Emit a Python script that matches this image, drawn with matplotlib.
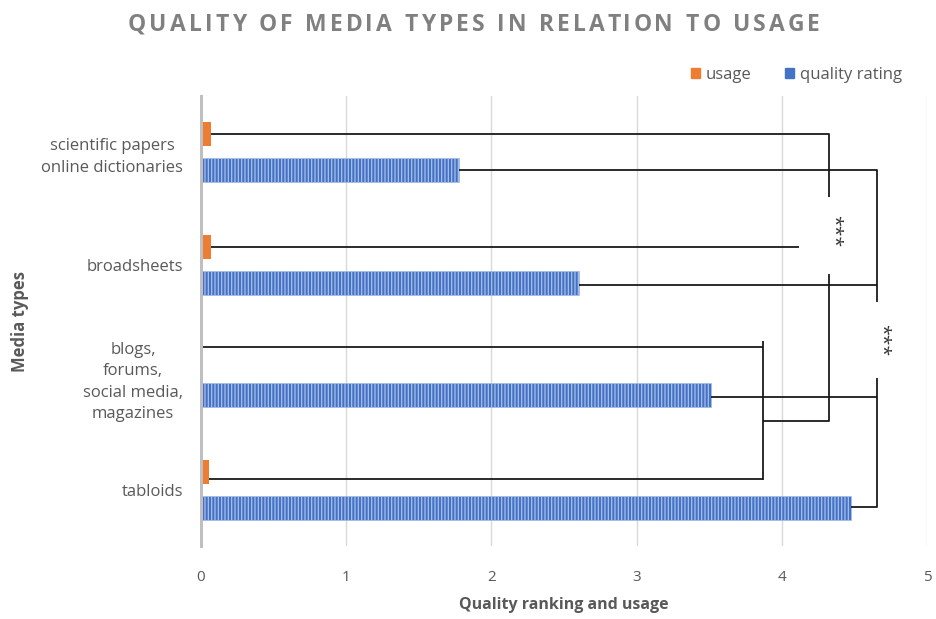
import matplotlib
matplotlib.use("Agg")
import matplotlib.pyplot as plt
from matplotlib.patches import Patch

# Media types, bottom to top
categories = [
    "tabloids",
    "blogs,\nforums,\nsocial media,\nmagazines",
    "broadsheets",
    "scientific papers\nonline dictionaries",
]
usage = [0.055, 0.0, 0.07, 0.07]
quality = [4.48, 3.51, 2.60, 1.78]
x_ticks = [0, 1, 2, 3, 4, 5]
title = "QUALITY OF MEDIA TYPES IN RELATION TO USAGE"

ORANGE = "#ED7D31"
BLUE = "#4472C4"
TEXT = "#595959"

plt.rcParams["font.family"] = ["Open Sans", "DejaVu Sans"]
plt.rcParams["hatch.linewidth"] = 0.9

W, H = 936, 619
fig = plt.figure(figsize=(W / 100, H / 100), dpi=100)
ax = fig.add_axes([201 / W, 1 - 546 / H, (927 - 201) / W, (546 - 96) / H])

pos = list(range(len(categories)))
off = 0.16
h = 0.21
ax.barh([p + off for p in pos], usage, height=h, color=ORANGE, zorder=3)
ax.barh([p - off for p in pos], quality, height=h, color=BLUE,
        edgecolor="#a9c0ea", linewidth=0.4, hatch="|||||", zorder=3)

# significance brackets
seg = [
    [(usage[3], 3.164), (4.325, 3.164), (4.325, 2.604)],
    [(4.325, 1.92), (4.325, 0.613), (3.871, 0.613)],
    [(usage[2], 2.16), (4.118, 2.16)],
    [(quality[3], 2.844), (4.656, 2.844), (4.656, 1.671)],
    [(4.656, 0.996), (4.656, -0.151), (quality[0], -0.151)],
    [(quality[2], 1.822), (4.656, 1.822)],
    [(quality[1], 0.827), (4.656, 0.827)],
    [(0, 1.271), (3.871, 1.271)],
    [(3.871, 1.324), (3.871, 0.089)],
    [(usage[0], 0.098), (3.871, 0.098)],
]
for s in seg:
    xs, ys = zip(*s)
    ax.plot(xs, ys, color="#1a1a1a", lw=1.3, zorder=4, solid_capstyle="butt")

for sx, sy in [(4.352, 2.30), (4.683, 1.333)]:
    ax.text(sx, sy, "***", rotation=270, ha="center", va="center",
            fontsize=14, color="#333333", zorder=5)

ax.set_xlim(0, 5)
ax.set_ylim(-0.5, 3.5)
ax.set_xticks(x_ticks)
ax.set_yticks(pos)
ax.set_yticklabels(categories, linespacing=1.45)
for lbl in ax.get_yticklabels():
    lbl.set_multialignment("center")
ax.tick_params(axis="both", length=0, labelcolor=TEXT)
ax.tick_params(axis="x", pad=17, labelsize=11)
ax.tick_params(axis="y", pad=13, labelsize=12)
ax.grid(axis="x", color="#d9d9d9", lw=1, zorder=0)
for sp in ["top", "right", "bottom"]:
    ax.spines[sp].set_visible(False)
ax.spines["left"].set_color("#bfbfbf")
ax.spines["left"].set_linewidth(2.2)
ax.spines["left"].set_zorder(5)

ax.set_xlabel("Quality ranking and usage", fontsize=11.5, color=TEXT,
              fontweight="bold", labelpad=9)
fig.text(20 / W, 1 - 321 / H, "Media types", rotation=90, ha="center",
         va="center", fontsize=12, color=TEXT, fontweight="bold")

# letter-spaced title, laid out glyph by glyph
renderer = fig.canvas.get_renderer()
tkw = dict(fontsize=16.5, fontweight="bold", color="#808080")
probe = fig.text(0, 0, "X", **tkw)
def text_width(s):
    probe.set_text(s + "X")
    w = probe.get_window_extent(renderer).width
    probe.set_text("X")
    return w - probe.get_window_extent(renderer).width
offsets = [text_width(title[:i]) for i in range(len(title))]
full = text_width(title)
probe.remove()
target = 692.0
spacing = (target - full) / (len(title) - 1)
x0 = (474 - target / 2)
for i, ch in enumerate(title):
    if ch == " ":
        continue
    fig.text((x0 + offsets[i] + i * spacing) / W, 1 - 31 / H, ch,
             ha="left", va="baseline", **tkw)

handles = [Patch(color=ORANGE, label="usage"), Patch(color=BLUE, label="quality rating")]
fig.legend(handles=handles, loc="center right", bbox_to_anchor=(902 / W, 1 - 75 / H),
           ncol=2, frameon=False, fontsize=12, handlelength=0.55, handleheight=0.55,
           handletextpad=0.35, columnspacing=2.0, labelcolor=TEXT, borderaxespad=0,
           borderpad=0)

fig.savefig("out.png", dpi=100)
